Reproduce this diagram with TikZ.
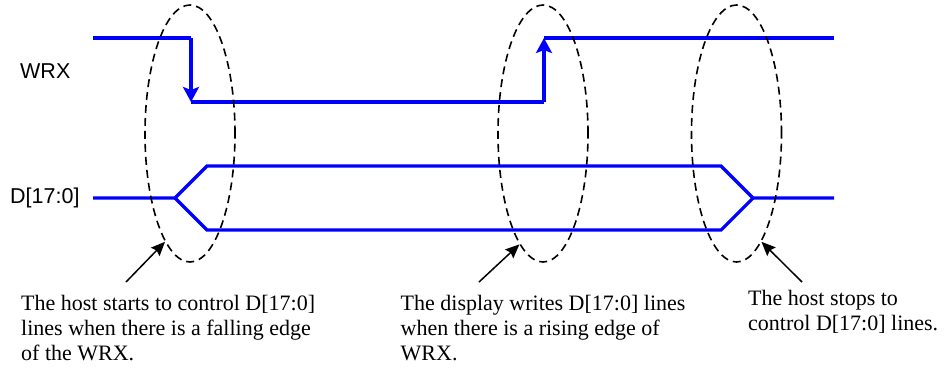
\documentclass[tikz,border=0pt]{standalone}
\usepackage{fontspec}
\setmainfont{Liberation Serif}
\newfontfamily\labelfont{Liberation Sans}
\usetikzlibrary{arrows.meta,shapes.geometric}
\definecolor{sigblue}{RGB}{0,0,255}
\tikzset{
  signal/.style={draw=sigblue, line width=3.2pt, line join=miter},
  edgearrow/.style={signal, -{Stealth[length=15pt,width=16pt,inset=3pt]}},
  region/.style={draw=black, line width=1.6pt, dash pattern=on 8pt off 5pt, ellipse, minimum width=90pt, minimum height=257pt, inner sep=0pt},
  pointer/.style={draw=black, line width=1.5pt, -{Stealth[length=14pt,width=12pt,inset=2pt]}},
  siglabel/.style={font=\labelfont\fontsize{21.5}{24}\selectfont, inner sep=0pt, anchor=west},
  note/.style={font=\fontsize{22}{25}\selectfont, align=left, inner sep=0pt, anchor=north west}
}
\begin{document}
\begin{tikzpicture}[x=1pt,y=-1pt]
\useasboundingbox (0,0) rectangle (945,376);
% signal labels
\node[siglabel] (wrx) at (20,71) {WRX};
\node[siglabel] (data) at (10,198) {D[17:0]};
% WRX waveform
\coordinate (w0) at (93,38);
\coordinate (w1) at (191,38);
\coordinate (w2) at (191,102);
\coordinate (w3) at (544,102);
\coordinate (w4) at (544,38);
\coordinate (w5) at (834,38);
\draw[signal] (w0) -- (w1);
\draw[edgearrow] (w1) -- (w2);
\draw[signal] (w2) -- (w3);
\draw[edgearrow] (w3) -- (w4);
\draw[signal] (w4) -- (w5);
% data bus waveform
\coordinate (d0) at (93,198);
\coordinate (d1) at (175,198);
\coordinate (dt1) at (207,166);
\coordinate (db1) at (207,230);
\coordinate (dt2) at (721,166);
\coordinate (db2) at (721,230);
\coordinate (d2) at (753,198);
\coordinate (d3) at (834,198);
\draw[signal] (d0) -- (d1) -- (dt1) -- (dt2) -- (d2) -- (d3);
\draw[signal] (d1) -- (db1) -- (db2) -- (d2);
% dashed regions
\node[region] (e1) at (190,133.5) {};
\node[region] (e2) at (543,133.5) {};
\node[region] (e3) at (736.5,133.5) {};
% notes
\node[note] (n1) at (21,295) {The host starts to control D[17:0]\\lines when there is a falling edge\\of the WRX.};
\node[note] (n2) at (400.5,295) {The display writes D[17:0] lines\\when there is a rising edge of\\WRX.};
\node[note] (n3) at (748,290) {The host stops to\\control D[17:0] lines.};
% pointers
\coordinate (p1) at (126,282);
\coordinate (p2) at (479,282);
\coordinate (p3) at (802,282);
\draw[pointer] (p1) -- (e1.257);
\draw[pointer] (p2) -- (e2.258.6);
\draw[pointer] (p3) -- (e3.283.1);
\end{tikzpicture}
\end{document}
